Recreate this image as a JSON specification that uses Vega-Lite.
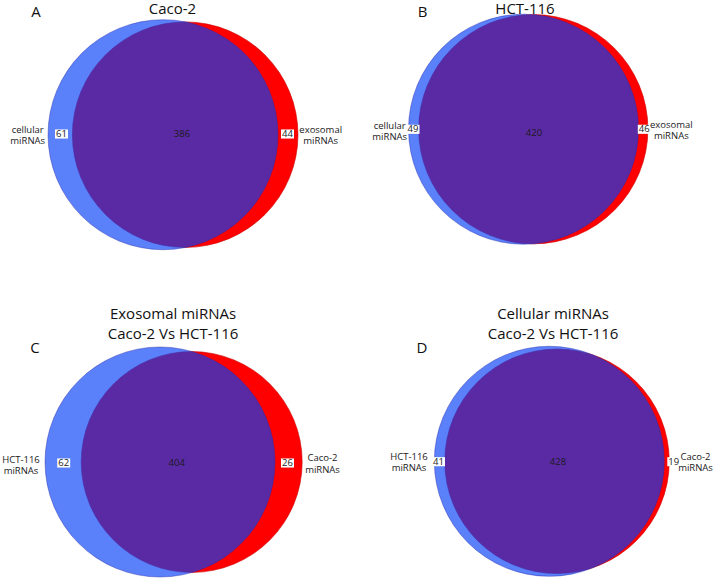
{
  "$schema": "https://vega.github.io/schema/vega-lite/v6.json",
  "padding": 0,
  "background": "white",
  "config": {"view": {"stroke": null}, "font": "Open Sans"},
  "data": {
    "values": [
      {"panel": "A", "kind": "circle", "side": "right", "total": 430, "x": 185.2, "y": 134.7},
      {"panel": "A", "kind": "circle", "side": "left", "total": 447, "x": 163, "y": 134.7},
      {"panel": "B", "kind": "circle", "side": "right", "total": 466, "x": 176.3, "y": 129.2},
      {"panel": "B", "kind": "circle", "side": "left", "total": 469, "x": 166.5, "y": 129.2},
      {"panel": "C", "kind": "circle", "side": "right", "total": 430, "x": 191.7, "y": 173},
      {"panel": "C", "kind": "circle", "side": "left", "total": 466, "x": 160, "y": 173},
      {"panel": "D", "kind": "circle", "side": "right", "total": 447, "x": 200, "y": 172.3},
      {"panel": "D", "kind": "circle", "side": "left", "total": 469, "x": 192.3, "y": 172.3},

      {"panel": "A", "kind": "title", "label": "Caco-2", "x": 172.5, "y": 1.8},
      {"panel": "B", "kind": "title", "label": "HCT-116", "x": 168, "y": 1.8},
      {"panel": "C", "kind": "title", "label": "Exosomal miRNAs\nCaco-2 Vs HCT-116", "x": 173, "y": 18.2},
      {"panel": "D", "kind": "title", "label": "Cellular miRNAs\nCaco-2 Vs HCT-116", "x": 196, "y": 18.2},

      {"panel": "A", "kind": "letter", "label": "A", "x": 36, "y": 16.7},
      {"panel": "B", "kind": "letter", "label": "B", "x": 65.5, "y": 17.3},
      {"panel": "C", "kind": "letter", "label": "C", "x": 35, "y": 64.3},
      {"panel": "D", "kind": "letter", "label": "D", "x": 65, "y": 64.3},

      {"panel": "A", "kind": "setname", "label": "cellular\nmiRNAs", "x": 27.7, "y": 132.7},
      {"panel": "A", "kind": "setname", "label": "exosomal\nmiRNAs", "x": 320.7, "y": 132.7},
      {"panel": "B", "kind": "setname", "label": "cellular\nmiRNAs", "x": 32.7, "y": 128.7},
      {"panel": "B", "kind": "setname", "label": "exosomal\nmiRNAs", "x": 314.3, "y": 127.5},
      {"panel": "C", "kind": "setname", "label": "HCT-116\nmiRNAs", "x": 21, "y": 173.5},
      {"panel": "C", "kind": "setname", "label": "Caco-2\nmiRNAs", "x": 322.5, "y": 172},
      {"panel": "D", "kind": "setname", "label": "HCT-116\nmiRNAs", "x": 52, "y": 170.5},
      {"panel": "D", "kind": "setname", "label": "Caco-2\nmiRNAs", "x": 338.5, "y": 170.5},

      {"panel": "A", "kind": "count", "region": "left only", "label": "61", "x": 61.5, "y": 134},
      {"panel": "A", "kind": "count", "region": "both", "label": "386", "x": 182, "y": 134},
      {"panel": "A", "kind": "count", "region": "right only", "label": "44", "x": 287.5, "y": 134},
      {"panel": "B", "kind": "count", "region": "left only", "label": "49", "x": 56, "y": 129.3},
      {"panel": "B", "kind": "count", "region": "both", "label": "420", "x": 177, "y": 133.3},
      {"panel": "B", "kind": "count", "region": "right only", "label": "46", "x": 287.3, "y": 129.3},
      {"panel": "C", "kind": "count", "region": "left only", "label": "62", "x": 63.7, "y": 174},
      {"panel": "C", "kind": "count", "region": "both", "label": "404", "x": 176.7, "y": 174},
      {"panel": "C", "kind": "count", "region": "right only", "label": "26", "x": 287.5, "y": 174},
      {"panel": "D", "kind": "count", "region": "left only", "label": "41", "x": 81.5, "y": 172.7},
      {"panel": "D", "kind": "count", "region": "both", "label": "428", "x": 201, "y": 172.7},
      {"panel": "D", "kind": "count", "region": "right only", "label": "19", "x": 316.8, "y": 172.7}
    ]
  },
  "columns": 2,
  "spacing": {"row": 0, "column": 1},
  "resolve": {"scale": {"size": "independent", "x": "independent", "y": "independent"}},
  "concat": [
    {
      "width": 356, "height": 289,
      "transform": [{"filter": "datum.panel === 'A'"}],
      "encoding": {
        "x": {"field": "x", "type": "quantitative", "scale": {"domain": [0, 356], "nice": false, "zero": false}, "axis": null},
        "y": {"field": "y", "type": "quantitative", "scale": {"domain": [0, 289], "nice": false, "zero": false, "reverse": true}, "axis": null}
      },
      "layer": [
        {"transform": [{"filter": "datum.kind === 'circle' && datum.side === 'right'"}], "mark": {"type": "point", "shape": "circle", "filled": true, "fill": "#ff0000", "opacity": 1, "stroke": "#c80000", "strokeWidth": 0.6}, "encoding": {"size": {"field": "total", "type": "quantitative", "scale": {"range": [0, 52900], "zero": true}, "legend": null}}},
        {"transform": [{"filter": "datum.kind === 'circle' && datum.side === 'left'"}], "mark": {"type": "point", "shape": "circle", "filled": true, "fill": "#063ff7", "fillOpacity": 0.663, "stroke": "#2a2aa8", "strokeOpacity": 0.6, "strokeWidth": 0.7}, "encoding": {"size": {"field": "total", "type": "quantitative", "scale": {"range": [0, 52900], "zero": true}, "legend": null}}},
        {"transform": [{"filter": "datum.kind === 'count' && datum.region !== 'both'"}], "mark": {"type": "point", "shape": "M-1,-0.7H1V0.7H-1Z", "filled": true, "fill": "white", "opacity": 1, "size": 169, "strokeWidth": 0}},
        {"transform": [{"filter": "datum.kind === 'count'"}], "mark": {"type": "text", "fontSize": 9.5, "color": "#1a1a1a", "baseline": "middle", "align": "center"}, "encoding": {"text": {"field": "label"}}},
        {"transform": [{"filter": "datum.kind === 'setname'"}], "mark": {"type": "text", "fontSize": 9.5, "color": "#1a1a1a", "baseline": "alphabetic", "align": "center", "lineBreak": "\n", "lineHeight": 11.5}, "encoding": {"text": {"field": "label"}}},
        {"transform": [{"filter": "datum.kind === 'title'"}], "mark": {"type": "text", "fontSize": 15, "color": "#111111", "baseline": "top", "align": "center", "lineBreak": "\n", "lineHeight": 20}, "encoding": {"text": {"field": "label"}}},
        {"transform": [{"filter": "datum.kind === 'letter'"}], "mark": {"type": "text", "fontSize": 15, "color": "#111111", "baseline": "alphabetic", "align": "center"}, "encoding": {"text": {"field": "label"}}}
      ]
    },
    {
      "width": 356, "height": 289,
      "transform": [{"filter": "datum.panel === 'B'"}],
      "encoding": {
        "x": {"field": "x", "type": "quantitative", "scale": {"domain": [0, 356], "nice": false, "zero": false}, "axis": null},
        "y": {"field": "y", "type": "quantitative", "scale": {"domain": [0, 289], "nice": false, "zero": false, "reverse": true}, "axis": null}
      },
      "layer": [
        {"transform": [{"filter": "datum.kind === 'circle' && datum.side === 'right'"}], "mark": {"type": "point", "shape": "circle", "filled": true, "fill": "#ff0000", "opacity": 1, "stroke": "#c80000", "strokeWidth": 0.6}, "encoding": {"size": {"field": "total", "type": "quantitative", "scale": {"range": [0, 52900], "zero": true}, "legend": null}}},
        {"transform": [{"filter": "datum.kind === 'circle' && datum.side === 'left'"}], "mark": {"type": "point", "shape": "circle", "filled": true, "fill": "#063ff7", "fillOpacity": 0.663, "stroke": "#2a2aa8", "strokeOpacity": 0.6, "strokeWidth": 0.7}, "encoding": {"size": {"field": "total", "type": "quantitative", "scale": {"range": [0, 52900], "zero": true}, "legend": null}}},
        {"transform": [{"filter": "datum.kind === 'count' && datum.region !== 'both'"}], "mark": {"type": "point", "shape": "M-1,-0.7H1V0.7H-1Z", "filled": true, "fill": "white", "opacity": 1, "size": 169, "strokeWidth": 0}},
        {"transform": [{"filter": "datum.kind === 'count'"}], "mark": {"type": "text", "fontSize": 9.5, "color": "#1a1a1a", "baseline": "middle", "align": "center"}, "encoding": {"text": {"field": "label"}}},
        {"transform": [{"filter": "datum.kind === 'setname'"}], "mark": {"type": "text", "fontSize": 9.5, "color": "#1a1a1a", "baseline": "alphabetic", "align": "center", "lineBreak": "\n", "lineHeight": 11.5}, "encoding": {"text": {"field": "label"}}},
        {"transform": [{"filter": "datum.kind === 'title'"}], "mark": {"type": "text", "fontSize": 15, "color": "#111111", "baseline": "top", "align": "center", "lineBreak": "\n", "lineHeight": 20}, "encoding": {"text": {"field": "label"}}},
        {"transform": [{"filter": "datum.kind === 'letter'"}], "mark": {"type": "text", "fontSize": 15, "color": "#111111", "baseline": "alphabetic", "align": "center"}, "encoding": {"text": {"field": "label"}}}
      ]
    },
    {
      "width": 356, "height": 289,
      "transform": [{"filter": "datum.panel === 'C'"}],
      "encoding": {
        "x": {"field": "x", "type": "quantitative", "scale": {"domain": [0, 356], "nice": false, "zero": false}, "axis": null},
        "y": {"field": "y", "type": "quantitative", "scale": {"domain": [0, 289], "nice": false, "zero": false, "reverse": true}, "axis": null}
      },
      "layer": [
        {"transform": [{"filter": "datum.kind === 'circle' && datum.side === 'right'"}], "mark": {"type": "point", "shape": "circle", "filled": true, "fill": "#ff0000", "opacity": 1, "stroke": "#c80000", "strokeWidth": 0.6}, "encoding": {"size": {"field": "total", "type": "quantitative", "scale": {"range": [0, 52900], "zero": true}, "legend": null}}},
        {"transform": [{"filter": "datum.kind === 'circle' && datum.side === 'left'"}], "mark": {"type": "point", "shape": "circle", "filled": true, "fill": "#063ff7", "fillOpacity": 0.663, "stroke": "#2a2aa8", "strokeOpacity": 0.6, "strokeWidth": 0.7}, "encoding": {"size": {"field": "total", "type": "quantitative", "scale": {"range": [0, 52900], "zero": true}, "legend": null}}},
        {"transform": [{"filter": "datum.kind === 'count' && datum.region !== 'both'"}], "mark": {"type": "point", "shape": "M-1,-0.7H1V0.7H-1Z", "filled": true, "fill": "white", "opacity": 1, "size": 169, "strokeWidth": 0}},
        {"transform": [{"filter": "datum.kind === 'count'"}], "mark": {"type": "text", "fontSize": 9.5, "color": "#1a1a1a", "baseline": "middle", "align": "center"}, "encoding": {"text": {"field": "label"}}},
        {"transform": [{"filter": "datum.kind === 'setname'"}], "mark": {"type": "text", "fontSize": 9.5, "color": "#1a1a1a", "baseline": "alphabetic", "align": "center", "lineBreak": "\n", "lineHeight": 11.5}, "encoding": {"text": {"field": "label"}}},
        {"transform": [{"filter": "datum.kind === 'title'"}], "mark": {"type": "text", "fontSize": 15, "color": "#111111", "baseline": "top", "align": "center", "lineBreak": "\n", "lineHeight": 20}, "encoding": {"text": {"field": "label"}}},
        {"transform": [{"filter": "datum.kind === 'letter'"}], "mark": {"type": "text", "fontSize": 15, "color": "#111111", "baseline": "alphabetic", "align": "center"}, "encoding": {"text": {"field": "label"}}}
      ]
    },
    {
      "width": 356, "height": 289,
      "transform": [{"filter": "datum.panel === 'D'"}],
      "encoding": {
        "x": {"field": "x", "type": "quantitative", "scale": {"domain": [0, 356], "nice": false, "zero": false}, "axis": null},
        "y": {"field": "y", "type": "quantitative", "scale": {"domain": [0, 289], "nice": false, "zero": false, "reverse": true}, "axis": null}
      },
      "layer": [
        {"transform": [{"filter": "datum.kind === 'circle' && datum.side === 'right'"}], "mark": {"type": "point", "shape": "circle", "filled": true, "fill": "#ff0000", "opacity": 1, "stroke": "#c80000", "strokeWidth": 0.6}, "encoding": {"size": {"field": "total", "type": "quantitative", "scale": {"range": [0, 52900], "zero": true}, "legend": null}}},
        {"transform": [{"filter": "datum.kind === 'circle' && datum.side === 'left'"}], "mark": {"type": "point", "shape": "circle", "filled": true, "fill": "#063ff7", "fillOpacity": 0.663, "stroke": "#2a2aa8", "strokeOpacity": 0.6, "strokeWidth": 0.7}, "encoding": {"size": {"field": "total", "type": "quantitative", "scale": {"range": [0, 52900], "zero": true}, "legend": null}}},
        {"transform": [{"filter": "datum.kind === 'count' && datum.region !== 'both'"}], "mark": {"type": "point", "shape": "M-1,-0.7H1V0.7H-1Z", "filled": true, "fill": "white", "opacity": 1, "size": 169, "strokeWidth": 0}},
        {"transform": [{"filter": "datum.kind === 'count'"}], "mark": {"type": "text", "fontSize": 9.5, "color": "#1a1a1a", "baseline": "middle", "align": "center"}, "encoding": {"text": {"field": "label"}}},
        {"transform": [{"filter": "datum.kind === 'setname'"}], "mark": {"type": "text", "fontSize": 9.5, "color": "#1a1a1a", "baseline": "alphabetic", "align": "center", "lineBreak": "\n", "lineHeight": 11.5}, "encoding": {"text": {"field": "label"}}},
        {"transform": [{"filter": "datum.kind === 'title'"}], "mark": {"type": "text", "fontSize": 15, "color": "#111111", "baseline": "top", "align": "center", "lineBreak": "\n", "lineHeight": 20}, "encoding": {"text": {"field": "label"}}},
        {"transform": [{"filter": "datum.kind === 'letter'"}], "mark": {"type": "text", "fontSize": 15, "color": "#111111", "baseline": "alphabetic", "align": "center"}, "encoding": {"text": {"field": "label"}}}
      ]
    }
  ]
}
